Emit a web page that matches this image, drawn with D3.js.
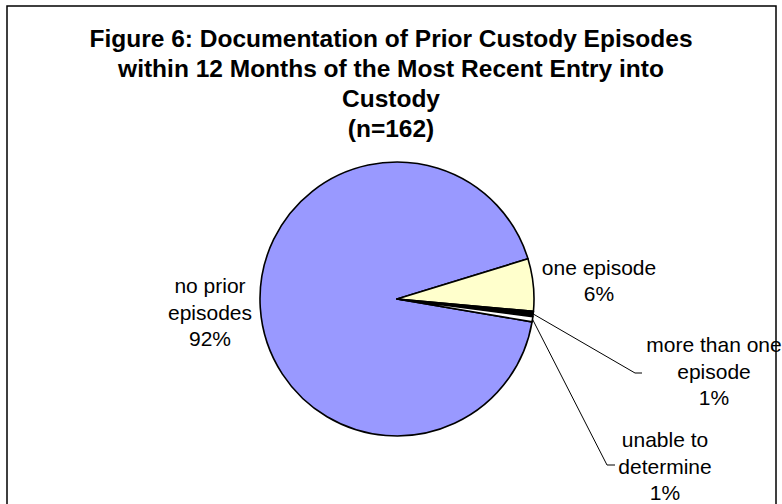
<!DOCTYPE html>
<html>
<head>
<meta charset="utf-8">
<script src="https://cdn.jsdelivr.net/npm/d3@7"></script>
<style>
  html, body { margin: 0; padding: 0; background: #fff; }
  svg { display: block; }
  text { font-family: "Liberation Sans", Arial, sans-serif; }
</style>
</head>
<body>
<svg id="chart" width="782" height="504"></svg>
<script>
// ---- data ----
const titleLines = [
  "Figure 6: Documentation of Prior Custody Episodes",
  "within 12 Months of the Most Recent Entry into",
  "Custody",
  "(n=162)"
];
const categories = ["no prior episodes", "one episode", "more than one episode", "unable to determine"];
const counts = [150, 10, 1, 1];            // n = 162
const percentLabels = ["92%", "6%", "1%", "1%"];
const labelLines = [
  ["no prior", "episodes"],
  ["one episode"],
  ["more than one", "episode"],
  ["unable to", "determine"]
];
const colors = ["#9999FF", "#FFFFCC", "#000000", "#FFFFFF"];

// ---- layout (positions / styles) ----
const W = 782, H = 504;
const cx = 397, cy = 299, radius = 137;
const firstSliceDeg = 99.6;
const labelFont = 21, labelLH = 26.7;
const labelLayout = [
  { x: 210, y: 293, leader: null },
  { x: 599, y: 274.5, leader: null },
  { x: 714, y: 352, leader: { elbow: [635, 373], end: [642, 373] } },
  { x: 665, y: 447, leader: { elbow: [607, 465], end: [615, 465] } }
];

const svg = d3.select("#chart");

// border
svg.append("rect")
  .attr("x", 7).attr("y", 6)
  .attr("width", 769).attr("height", 520)
  .attr("fill", "none").attr("stroke", "#000").attr("stroke-width", 1.5);

// title
const title = svg.append("text")
  .attr("text-anchor", "middle")
  .attr("font-weight", "bold")
  .attr("font-size", 24.5)
  .attr("fill", "#000");
titleLines.forEach((t, i) => {
  title.append("tspan").attr("x", 391).attr("y", 46.5 + i * 30).text(t);
});

// pie
const start = firstSliceDeg * Math.PI / 180;
const pie = d3.pie().sort(null).value(d => d).startAngle(start).endAngle(start + 2 * Math.PI);
const arcs = pie(counts);
const arc = d3.arc().innerRadius(0).outerRadius(radius);
const outerArc = d3.arc().innerRadius(radius).outerRadius(radius);

const g = svg.append("g").attr("transform", `translate(${cx},${cy})`);
g.selectAll("path.slice")
  .data(arcs)
  .join("path")
  .attr("class", "slice")
  .attr("d", arc)
  .attr("fill", (d, i) => colors[i])
  .attr("stroke", "#000")
  .attr("stroke-width", 1.6)
  .attr("stroke-linejoin", "round");

// leader lines
arcs.forEach((a, i) => {
  const L = labelLayout[i].leader;
  if (!L) return;
  const mid = (a.startAngle + a.endAngle) / 2;
  const p0 = [cx + radius * Math.sin(mid), cy - radius * Math.cos(mid)];
  svg.append("polyline")
    .attr("points", [p0, L.elbow, L.end].map(p => p.join(",")).join(" "))
    .attr("fill", "none")
    .attr("stroke", "#000")
    .attr("stroke-width", 1);
});

// labels
categories.forEach((c, i) => {
  const lay = labelLayout[i];
  const lines = labelLines[i].concat([percentLabels[i]]);
  const t = svg.append("text")
    .attr("text-anchor", "middle")
    .attr("font-size", labelFont)
    .attr("fill", "#000");
  lines.forEach((ln, j) => {
    t.append("tspan").attr("x", lay.x).attr("y", lay.y + j * labelLH).text(ln);
  });
});
</script>
</body>
</html>
